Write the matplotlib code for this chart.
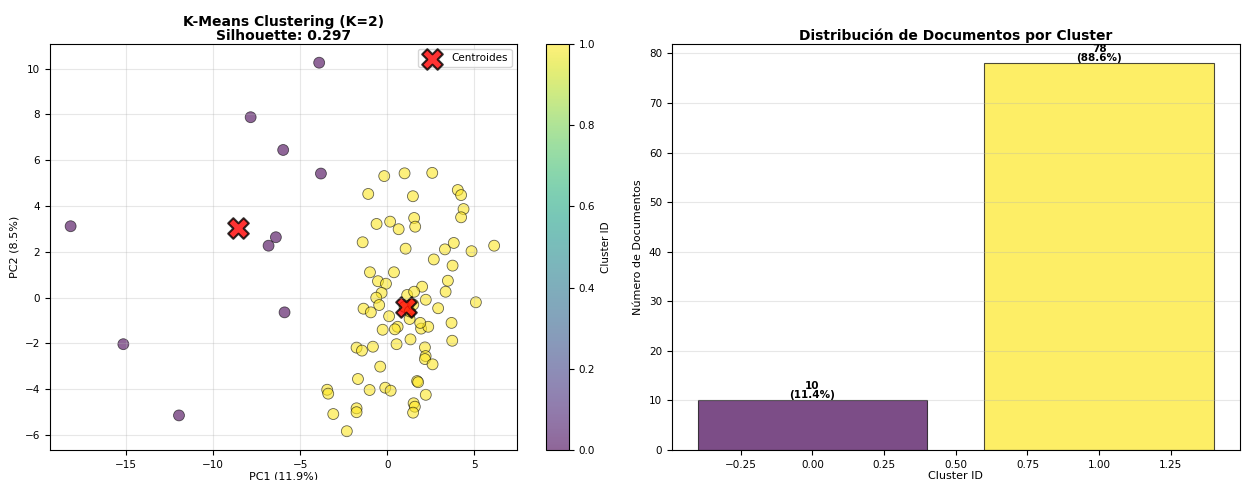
import numpy as np
import matplotlib
matplotlib.use("Agg")
import matplotlib.pyplot as plt

# PCA coordinates
pc1_c0 = [-3.91, -7.85, -5.98, -3.81, -18.2, -6.40, -6.82, -5.90, -15.17, -11.97]
pc2_c0 = [10.26, 7.88, 6.45, 5.42, 3.12, 2.64, 2.27, -0.64, -2.03, -5.14]

pc1_c1 = [-0.17, 1.00, 2.59, -1.09, 1.48, 4.06, 4.25, 4.39, 4.25, 1.55,
          1.61, -0.61, 0.17, 0.66, -1.41, 1.06, 3.32, 3.83, 4.85, 6.15, 2.68,
          -0.99, 0.39, 3.76, 3.49, -0.53, -0.07, 2.01, 3.36, -0.32, -0.63,
          1.15, 1.55, -0.46, 2.22, 5.10, -1.36, -0.94, 2.93, 0.11, 1.29,
          0.60, 0.44, -0.26, 1.95, 2.36, 3.70, 1.34, 0.54, 3.74, -1.76,
          -1.45, -0.82, 2.17, 2.21, 2.17, 2.61, -0.40, -1.68, 1.72, 1.78,
          -3.45, -3.39, -1.01, -0.11, 0.20, 2.22, -1.76, -1.76, -3.10, 1.52,
          1.59, 1.49, -2.32, 1.00, 1.30, 1.50, 1.90]
pc2_c1 = [5.31, 5.43, 5.45, 4.53, 4.43, 4.70, 4.48, 3.87, 3.51, 3.48,
          3.10, 3.22, 3.32, 2.99, 2.42, 2.14, 2.11, 2.39, 2.03, 2.27, 1.67,
          1.11, 1.11, 1.40, 0.74, 0.72, 0.61, 0.48, 0.26, 0.21, 0.00,
          0.12, 0.26, -0.32, -0.09, -0.20, -0.48, -0.64, -0.46, -0.81, -0.93,
          -1.27, -1.38, -1.40, -1.35, -1.27, -1.10, -1.82, -2.03, -1.88, -2.18,
          -2.31, -2.14, -2.17, -2.55, -2.68, -2.91, -3.01, -3.55, -3.64, -3.69,
          -4.02, -4.19, -4.03, -3.93, -4.06, -4.24, -4.83, -5.00, -5.08, -4.61,
          -4.76, -5.02, -5.83, -0.40, -0.60, -0.30, -1.10]

cluster_ids = [0, 1]
silhouette = 0.297
var_pc1 = 11.9
var_pc2 = 8.5

pc1 = np.array(pc1_c0 + pc1_c1)
pc2 = np.array(pc2_c0 + pc2_c1)
labels = np.array([0] * len(pc1_c0) + [1] * len(pc1_c1))
counts = np.array([np.sum(labels == k) for k in cluster_ids])
centroids = np.array([[pc1[labels == k].mean(), pc2[labels == k].mean()] for k in cluster_ids])

fig = plt.figure(figsize=(12.44, 4.8), dpi=100)
ax1 = fig.add_axes([0.040, 0.0625, 0.3754, 0.846])
cax = fig.add_axes([0.439, 0.0625, 0.0185, 0.846])
ax2 = fig.add_axes([0.540, 0.0625, 0.4566, 0.846])

# scatter
sc = ax1.scatter(pc1, pc2, c=labels, cmap='viridis', vmin=0, vmax=1, s=62, alpha=0.6,
                 edgecolors='k', linewidths=0.6)
ax1.scatter(centroids[:, 0], centroids[:, 1], c='red', marker='X', s=220,
            edgecolors='black', linewidths=1.5, alpha=0.8, label='Centroides')
ax1.set_xlim(-19.4, 7.45)
ax1.set_ylim(-6.65, 11.08)
ax1.set_xlabel('PC1 (%.1f%%)' % var_pc1, fontsize=8, labelpad=1)
ax1.set_ylabel('PC2 (%.1f%%)' % var_pc2, fontsize=8)
ax1.set_title('K-Means Clustering (K=2)\nSilhouette: %.3f' % silhouette,
              fontsize=10, fontweight='bold', pad=3, linespacing=1.0)
ax1.tick_params(labelsize=7.5)
ax1.grid(True, alpha=0.3)
ax1.legend(fontsize=7.5, loc='upper right')
cb = fig.colorbar(sc, cax=cax)
cb.set_label('Cluster ID', fontsize=7.5)
cb.ax.tick_params(labelsize=7.5)

# bar chart
bar_colors = plt.cm.viridis(np.linspace(0, 1, len(cluster_ids)))
bars = ax2.bar(cluster_ids, counts, color=bar_colors, alpha=0.7, edgecolor='black', linewidth=0.8)
total = counts.sum()
for b, n in zip(bars, counts):
    ax2.text(b.get_x() + b.get_width() / 2, b.get_height(), '%d\n(%.1f%%)' % (n, 100.0 * n / total),
             ha='center', va='bottom', fontsize=7.5, fontweight='bold', linespacing=0.9)
ax2.set_xlabel('Cluster ID', fontsize=8, labelpad=1)
ax2.set_ylabel('Número de Documentos', fontsize=8)
ax2.set_title('Distribución de Documentos por Cluster', fontsize=10, fontweight='bold', pad=3)
ax2.tick_params(labelsize=7.5)
ax2.grid(True, axis='y', alpha=0.3)

plt.savefig('out.png', dpi=100)
